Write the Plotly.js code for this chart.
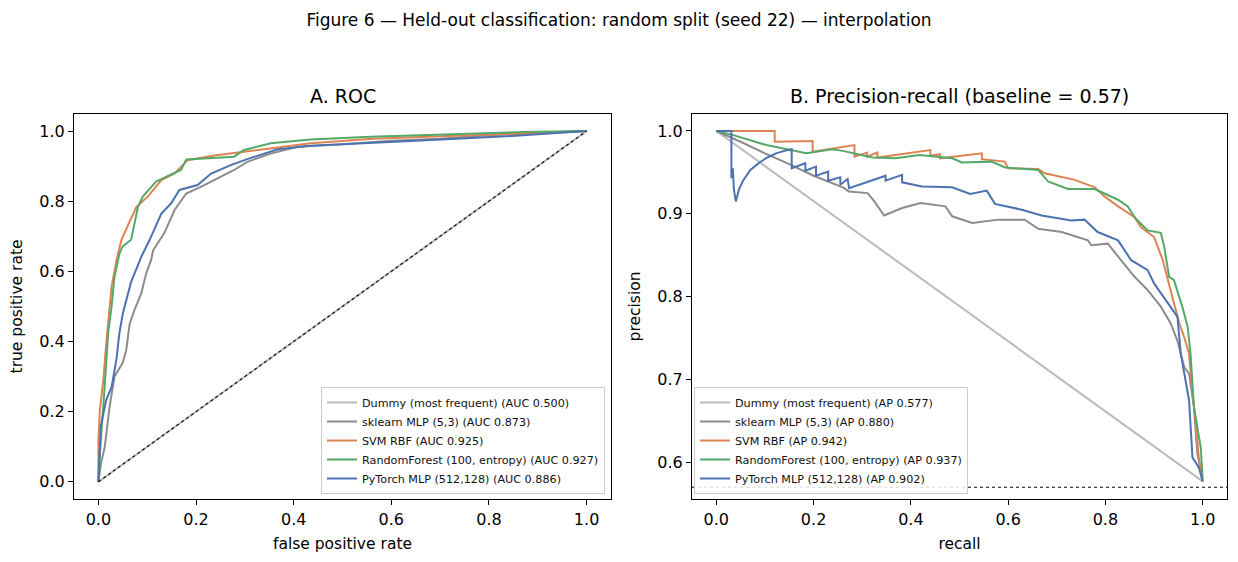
<!DOCTYPE html>
<html>
<head>
<meta charset="utf-8">
<script src="https://cdn.plot.ly/plotly-3.0.1.min.js"></script>
<style>html,body{margin:0;padding:0;background:#fff;}#chart{width:1238px;height:562px;}</style>
</head>
<body>
<div id="chart"></div>
<script>
// ---------- data ----------
const modelNames = ["Dummy (most frequent)", "sklearn MLP (5,3)", "SVM RBF", "RandomForest (100, entropy)", "PyTorch MLP (512,128)"];
const rocAuc = ["0.500", "0.873", "0.925", "0.927", "0.886"];
const prAp = ["0.577", "0.880", "0.942", "0.937", "0.902"];
const baseline = 0.57;

// ROC curves
const rocDummyFpr = [0, 1];
const rocDummyTpr = [0, 1];
const rocMlpFpr = [0, 0.005, 0.013, 0.023, 0.033, 0.05, 0.057, 0.064, 0.074, 0.088, 0.098, 0.108, 0.112, 0.135, 0.156, 0.18, 0.217, 0.244, 0.278, 0.305, 0.353, 0.408, 0.5, 0.6, 0.7, 0.8, 0.9, 1];
const rocMlpTpr = [0, 0.05, 0.1, 0.215, 0.3, 0.34, 0.376, 0.45, 0.49, 0.538, 0.595, 0.632, 0.66, 0.709, 0.775, 0.822, 0.846, 0.865, 0.889, 0.912, 0.936, 0.955, 0.962, 0.972, 0.978, 0.988, 0.995, 1];
const rocSvmFpr = [0, 0, 0.003, 0.01, 0.016, 0.023, 0.027, 0.037, 0.047, 0.06, 0.078, 0.101, 0.129, 0.156, 0.183, 0.237, 0.333, 0.435, 0.563, 0.7, 0.836, 1];
const rocSvmTpr = [0, 0.12, 0.205, 0.29, 0.395, 0.49, 0.556, 0.632, 0.689, 0.73, 0.784, 0.813, 0.86, 0.879, 0.917, 0.93, 0.946, 0.965, 0.978, 0.985, 0.993, 1];
const rocRfFpr = [0, 0.003, 0.01, 0.015, 0.02, 0.027, 0.033, 0.043, 0.049, 0.067, 0.081, 0.091, 0.118, 0.169, 0.18, 0.278, 0.298, 0.353, 0.435, 0.557, 0.7, 0.87, 1];
const rocRfTpr = [0, 0.08, 0.215, 0.31, 0.424, 0.5, 0.585, 0.65, 0.67, 0.69, 0.784, 0.813, 0.856, 0.889, 0.919, 0.927, 0.946, 0.965, 0.976, 0.984, 0.99, 0.997, 1];
const rocTorchFpr = [0, 0.003, 0.005, 0.016, 0.027, 0.037, 0.043, 0.05, 0.054, 0.067, 0.088, 0.105, 0.129, 0.149, 0.166, 0.203, 0.231, 0.271, 0.305, 0.367, 0.435, 0.557, 0.618, 0.836, 0.97, 1];
const rocTorchTpr = [0, 0.08, 0.16, 0.234, 0.27, 0.35, 0.424, 0.48, 0.5, 0.57, 0.642, 0.69, 0.765, 0.794, 0.832, 0.846, 0.879, 0.903, 0.92, 0.948, 0.958, 0.965, 0.97, 0.985, 0.998, 1];

// Precision-recall curves
const prDummyRec = [0, 1];
const prDummyPrec = [1, 0.577];
const prMlpRec = [0, 0.05, 0.1, 0.15, 0.2, 0.26, 0.273, 0.311, 0.325, 0.345, 0.382, 0.42, 0.471, 0.485, 0.526, 0.58, 0.634, 0.662, 0.71, 0.764, 0.771, 0.805, 0.832, 0.86, 0.887, 0.914, 0.934, 0.948, 0.962, 0.972, 0.982, 0.989, 1];
const prMlpPrec = [1, 0.987, 0.973, 0.96, 0.946, 0.932, 0.927, 0.925, 0.915, 0.898, 0.907, 0.913, 0.909, 0.897, 0.889, 0.893, 0.893, 0.882, 0.878, 0.868, 0.862, 0.864, 0.844, 0.824, 0.808, 0.788, 0.768, 0.747, 0.715, 0.707, 0.667, 0.611, 0.577];
const prSvmRec = [0, 0.12, 0.12, 0.198, 0.198, 0.284, 0.284, 0.31, 0.31, 0.331, 0.331, 0.44, 0.44, 0.46, 0.46, 0.546, 0.546, 0.593, 0.6, 0.662, 0.675, 0.737, 0.778, 0.798, 0.826, 0.86, 0.873, 0.9, 0.918, 0.928, 0.941, 0.952, 0.962, 0.972, 0.979, 0.986, 0.992, 1];
const prSvmPrec = [1, 1, 0.987, 0.988, 0.975, 0.983, 0.969, 0.974, 0.969, 0.974, 0.968, 0.977, 0.970, 0.972, 0.967, 0.973, 0.966, 0.963, 0.955, 0.954, 0.949, 0.941, 0.932, 0.921, 0.909, 0.896, 0.884, 0.872, 0.844, 0.82, 0.792, 0.768, 0.751, 0.731, 0.683, 0.647, 0.606, 0.577];
const prRfRec = [0, 0.035, 0.103, 0.185, 0.239, 0.26, 0.321, 0.369, 0.417, 0.485, 0.505, 0.566, 0.594, 0.662, 0.682, 0.723, 0.778, 0.798, 0.826, 0.846, 0.86, 0.873, 0.887, 0.914, 0.921, 0.931, 0.941, 0.958, 0.969, 0.975, 0.982, 0.996, 1];
const prRfPrec = [1, 0.995, 0.983, 0.973, 0.978, 0.976, 0.968, 0.967, 0.971, 0.967, 0.962, 0.963, 0.956, 0.953, 0.939, 0.93, 0.93, 0.925, 0.917, 0.909, 0.896, 0.888, 0.88, 0.877, 0.86, 0.824, 0.82, 0.788, 0.764, 0.731, 0.667, 0.618, 0.58];
const prTorchRec = [0, 0.031, 0.031, 0.034, 0.036, 0.04, 0.047, 0.055, 0.07, 0.089, 0.105, 0.123, 0.14, 0.155, 0.155, 0.183, 0.183, 0.205, 0.205, 0.23, 0.23, 0.255, 0.255, 0.27, 0.273, 0.348, 0.348, 0.382, 0.382, 0.423, 0.485, 0.522, 0.556, 0.573, 0.628, 0.669, 0.73, 0.757, 0.784, 0.826, 0.853, 0.887, 0.9, 0.928, 0.948, 0.955, 0.962, 0.972, 0.979, 0.992, 1];
const prTorchPrec = [1, 1, 0.943, 0.955, 0.93, 0.915, 0.93, 0.94, 0.953, 0.962, 0.968, 0.973, 0.976, 0.978, 0.955, 0.961, 0.952, 0.957, 0.946, 0.951, 0.94, 0.944, 0.935, 0.942, 0.931, 0.946, 0.94, 0.947, 0.938, 0.933, 0.932, 0.924, 0.928, 0.912, 0.905, 0.898, 0.892, 0.893, 0.878, 0.868, 0.844, 0.832, 0.816, 0.792, 0.776, 0.731, 0.707, 0.675, 0.606, 0.594, 0.577];

const colors = ["#bbbbbb", "#8c8c8c", "#dd8452", "#55a868", "#4c72b0"];

// ---------- traces ----------
const rocX = [rocDummyFpr, rocMlpFpr, rocSvmFpr, rocRfFpr, rocTorchFpr];
const rocY = [rocDummyTpr, rocMlpTpr, rocSvmTpr, rocRfTpr, rocTorchTpr];
const prX = [prDummyRec, prMlpRec, prSvmRec, prRfRec, prTorchRec];
const prY = [prDummyPrec, prMlpPrec, prSvmPrec, prRfPrec, prTorchPrec];

const traces = [];
for (let i = 0; i < modelNames.length; i++) {
  traces.push({
    x: rocX[i], y: rocY[i], xaxis: 'x', yaxis: 'y', mode: 'lines', type: 'scatter',
    name: modelNames[i] + ' (AUC ' + rocAuc[i] + ')', legend: 'legend',
    line: {color: colors[i], width: 2}, hoverinfo: 'skip'
  });
}
traces.push({
  x: rocDummyFpr, y: rocDummyTpr, xaxis: 'x', yaxis: 'y', mode: 'lines', type: 'scatter',
  showlegend: false, line: {color: '#111111', width: 1.2, dash: 'dot'}, hoverinfo: 'skip'
});
for (let i = 0; i < modelNames.length; i++) {
  traces.push({
    x: prX[i], y: prY[i], xaxis: 'x2', yaxis: 'y2', mode: 'lines', type: 'scatter',
    name: modelNames[i] + ' (AP ' + prAp[i] + ')', legend: 'legend2',
    line: {color: colors[i], width: 2}, hoverinfo: 'skip'
  });
}

const FONT = 'DejaVu Sans, Noto Sans, sans-serif';
const W = 1238, H = 562;
const yDom = [(H - 499.4) / H, (H - 113.5) / H];
const axCommon = {
  showgrid: false, zeroline: false, showline: true, mirror: true,
  linecolor: '#000', linewidth: 1, ticks: 'outside', ticklen: 5, tickwidth: 1, tickcolor: '#000',
  tickfont: {family: FONT, size: 16, color: '#000'}, tickformat: '.1f'
};
const titleFont = {family: FONT, size: 15.5, color: '#000'};
const legendCommon = {
  font: {family: FONT, size: 11.2, color: '#111'},
  bgcolor: 'rgba(255,255,255,0.85)', bordercolor: '#cccccc', borderwidth: 1,
  yanchor: 'bottom', y: (H - 494) / H, tracegroupgap: 0, itemwidth: 30
};

const layout = {
  width: W, height: H,
  margin: {l: 0, r: 0, t: 0, b: 0},
  paper_bgcolor: '#fff', plot_bgcolor: '#fff',
  font: {family: FONT, color: '#000'},
  title: {text: 'Figure 6 — Held-out classification: random split (seed 22) — interpolation',
          x: 0.5, xanchor: 'center', y: 1 - 20 / H, yanchor: 'middle', font: {family: FONT, size: 17, color: '#000'}},
  xaxis: Object.assign({}, axCommon, {domain: [74 / W, 611 / W], range: [-0.05, 1.05], anchor: 'y',
          tickvals: [0, 0.2, 0.4, 0.6, 0.8, 1.0],
          title: {text: 'false positive rate', font: titleFont, standoff: 10}}),
  yaxis: Object.assign({}, axCommon, {domain: yDom, range: [-0.05, 1.05], anchor: 'x',
          tickvals: [0, 0.2, 0.4, 0.6, 0.8, 1.0],
          title: {text: 'true positive rate', font: titleFont, standoff: 12}}),
  xaxis2: Object.assign({}, axCommon, {domain: [692 / W, 1227 / W], range: [-0.05, 1.05], anchor: 'y2',
          tickvals: [0, 0.2, 0.4, 0.6, 0.8, 1.0],
          title: {text: 'recall', font: titleFont, standoff: 10}}),
  yaxis2: Object.assign({}, axCommon, {domain: yDom, range: [0.5553, 1.0211], anchor: 'x2',
          tickvals: [0.6, 0.7, 0.8, 0.9, 1.0],
          title: {text: 'precision', font: titleFont, standoff: 12}}),
  legend: Object.assign({}, legendCommon, {x: 605 / W, xanchor: 'right'}),
  legend2: Object.assign({}, legendCommon, {x: 694 / W, xanchor: 'left'}),
  shapes: [{type: 'line', xref: 'x2 domain', yref: 'y2', x0: 0, x1: 1, y0: baseline, y1: baseline,
            line: {color: '#000', width: 1, dash: 'dot'}}],
  annotations: [
    {text: 'A. ROC', xref: 'paper', yref: 'paper', x: (74 + 611) / 2 / W, y: (H - 96) / H,
     xanchor: 'center', yanchor: 'middle', showarrow: false, font: {family: FONT, size: 19, color: '#000'}},
    {text: 'B. Precision-recall (baseline = 0.57)', xref: 'paper', yref: 'paper', x: (692 + 1227) / 2 / W, y: (H - 96) / H,
     xanchor: 'center', yanchor: 'middle', showarrow: false, font: {family: FONT, size: 19, color: '#000'}}
  ]
};

Plotly.newPlot('chart', traces, layout, {displayModeBar: false, staticPlot: true});
</script>
</body>
</html>
